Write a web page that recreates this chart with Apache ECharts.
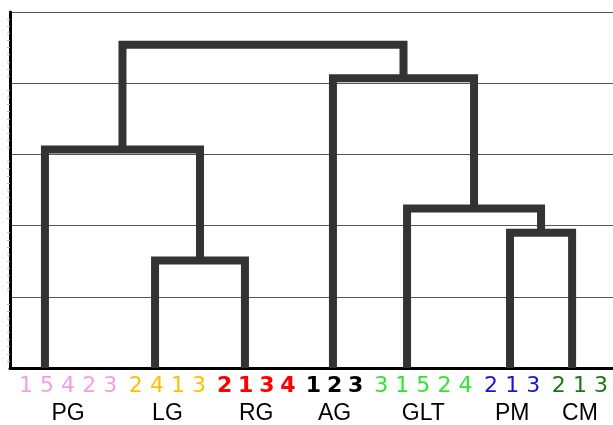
<!DOCTYPE html>
<html><head><meta charset="utf-8">
<script src="https://cdn.jsdelivr.net/npm/echarts@6/dist/echarts.min.js"></script>
<style>html,body{margin:0;padding:0;background:#fff}#c{width:613px;height:425px}</style>
</head><body><div id="c"></div>
<script>
// ---- data ----
const groups = ['PG', 'LG', 'RG', 'AG', 'GLT', 'PM', 'CM'];
const groupColors = ['#F59DE4', '#FFBF00', '#FF0000', '#000000', '#2EE62E', '#1515D6', '#187818'];
const groupBold = [false, false, true, true, false, false, false];
const sampleLabels = [[1, 5, 4, 2, 3], [2, 4, 1, 3], [2, 1, 3, 4], [1, 2, 3], [3, 1, 5, 2, 4], [2, 1, 3], [2, 1, 3]];
// leaf (group) positions along the sample axis
const leafPos = [0.90, 6.13, 10.40, 14.58, 18.10, 22.99, 25.94];
// linkage: [childA, childB, height]; nodes >= groups.length are earlier merges
const merges = [[1, 2, 1.51], [5, 6, 1.90], [4, 8, 2.24], [0, 7, 3.07], [3, 9, 4.07], [10, 11, 4.54]];
const yMin = 0, yMax = 5, yStep = 1;
const GROUP_GAP = 0.2185;

// ---- derived ----
const labelPos = [], labelText = [], labelGroup = [];
let idx = 0;
sampleLabels.forEach((arr, g) => {
  arr.forEach(t => {
    labelPos.push(idx + GROUP_GAP * g);
    labelText.push(String(t));
    labelGroup.push(g);
    idx++;
  });
});
const groupCenters = groups.map((_, g) => {
  const ps = labelPos.filter((p, i) => labelGroup[i] === g);
  return ps.reduce((a, b) => a + b, 0) / ps.length;
});
function nearest(arr, v) {
  let best = 0, bd = Infinity;
  arr.forEach((p, i) => { const d = Math.abs(p - v); if (d < bd) { bd = d; best = i; } });
  return best;
}
const nodeX = leafPos.slice(), nodeH = leafPos.map(() => 0);
const segs = [];
merges.forEach(([a, b, h]) => {
  segs.push({ coords: [[nodeX[a], nodeH[a]], [nodeX[a], h], [nodeX[b], h], [nodeX[b], nodeH[b]]] });
  nodeX.push((nodeX[a] + nodeX[b]) / 2);
  nodeH.push(h);
});
const rich = {};
groups.forEach((g, i) => {
  rich['g' + i] = {
    color: groupColors[i], fontFamily: 'DejaVu Sans', fontSize: 22,
    fontWeight: groupBold[i] ? 'bold' : 'normal', lineHeight: 22
  };
});

const chart = echarts.init(document.getElementById('c'), null, { renderer: 'canvas' });
chart.setOption({
  animation: false,
  backgroundColor: '#ffffff',
  grid: { left: 10, top: 12, width: 640, height: 356, outerBoundsMode: 'none', containLabel: false },
  xAxis: [{
    type: 'value', min: -0.76, max: 29.64,
    axisLine: { show: true, onZero: false, lineStyle: { color: '#000', width: 3 } },
    axisTick: { show: false },
    splitLine: { show: false },
    axisLabel: {
      customValues: labelPos, margin: 7, rich: rich,
      formatter: v => { const k = nearest(labelPos, v); return '{g' + labelGroup[k] + '|' + labelText[k] + '}'; }
    }
  }, {
    type: 'value', min: -0.76, max: 29.64, position: 'bottom', offset: 0,
    axisLine: { show: false }, axisTick: { show: false }, splitLine: { show: false },
    axisLabel: {
      customValues: groupCenters, margin: 34, color: '#000',
      fontFamily: 'Liberation Sans', fontSize: 23, lineHeight: 24,
      formatter: v => groups[nearest(groupCenters, v)]
    }
  }],
  yAxis: {
    type: 'value', min: yMin, max: yMax, interval: yStep,
    axisLine: { show: true, onZero: false, lineStyle: { color: '#000', width: 3 } },
    axisTick: { show: false },
    minorTick: { show: true, splitNumber: 10, length: 3, lineStyle: { color: '#bbb', width: 1 } },
    axisLabel: { show: false },
    splitLine: { show: true, lineStyle: { color: '#555', width: 1 } }
  },
  series: [{
    type: 'lines', coordinateSystem: 'cartesian2d', xAxisIndex: 0, yAxisIndex: 0,
    polyline: true, silent: true, data: segs,
    lineStyle: { color: '#333333', width: 8, opacity: 1, curveness: 0, cap: 'butt', join: 'miter' }
  }]
});
</script>
</body></html>
